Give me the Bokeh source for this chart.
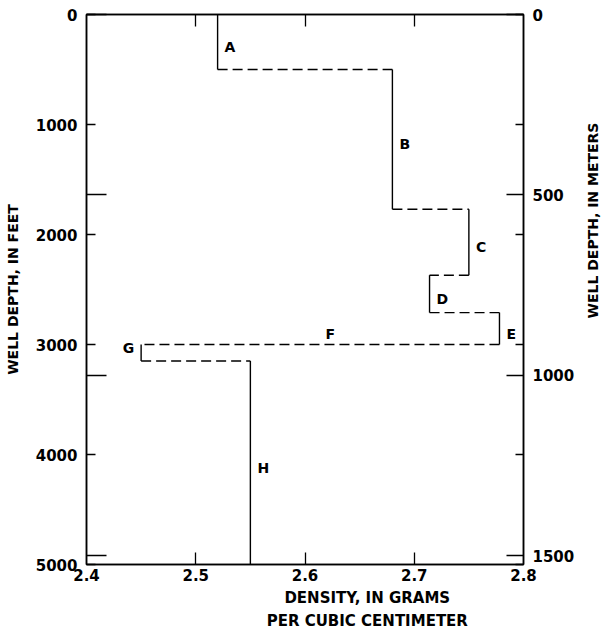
import math
from bokeh.plotting import figure
from bokeh.layouts import row, column
from bokeh.models import Range1d, LinearAxis, FixedTicker, ColumnDataSource
from bokeh.embed import file_html
from bokeh.resources import INLINE
from bokeh.core.properties import value

# ---- data ----
layer_names = ["A", "B", "C", "D", "E", "G", "H"]
layer_top_ft = [0, 500, 1770, 2370, 2710, 3000, 3150]
layer_base_ft = [500, 1770, 2370, 2710, 3000, 3150, 5000]
layer_density = [2.52, 2.68, 2.75, 2.714, 2.778, 2.45, 2.55]
thin_layer_name = ["F"]
thin_layer_depth_ft = [3000]

density_ticks = [2.4, 2.5, 2.6, 2.7, 2.8]
inner_density_ticks = [2.5, 2.6, 2.7]
feet_ticks = [0, 1000, 2000, 3000, 4000, 5000]
meter_ticks = [0, 500, 1000, 1500]
M_PER_FT = 0.3048

x_title = "DENSITY, IN GRAMS\nPER CUBIC CENTIMETER"
y_title_left = "WELL DEPTH, IN FEET"
y_title_right = "WELL DEPTH, IN METERS"

FONT = "DejaVu Sans"

# ---- sources ----
vert = ColumnDataSource(dict(x=layer_density, y0=layer_top_ft, y1=layer_base_ft))
horiz = ColumnDataSource(dict(
    x0=layer_density[:-1], x1=layer_density[1:], y=layer_base_ft[:-1]))

right_idx = [i for i, n in enumerate(layer_names) if n != "G"]
left_idx = [i for i, n in enumerate(layer_names) if n == "G"]
lab_r = ColumnDataSource(dict(
    x=[layer_density[i] for i in right_idx],
    y=[(layer_top_ft[i] + layer_base_ft[i]) / 2 for i in right_idx],
    t=[layer_names[i] for i in right_idx]))
lab_l = ColumnDataSource(dict(
    x=[layer_density[i] for i in left_idx],
    y=[layer_top_ft[i] for i in left_idx],
    t=[layer_names[i] for i in left_idx]))
e_i = layer_names.index("E")
g_i = layer_names.index("G")
lab_f = ColumnDataSource(dict(
    x=[(layer_density[e_i] + layer_density[g_i]) / 2],
    y=thin_layer_depth_ft, t=thin_layer_name))

# ---- main figure ----
xr = Range1d(2.4, 2.8)
yr = Range1d(5000, 0)
p = figure(x_range=xr, y_range=yr,
           frame_width=437, frame_height=550,
           min_border_left=86, min_border_right=55,
           min_border_top=14, min_border_bottom=24,
           x_axis_location=None, y_axis_location=None,
           output_backend="svg", toolbar_location=None)
p.extra_y_ranges = {"m": Range1d(5000 * M_PER_FT, 0)}
p.grid.grid_line_color = None
p.outline_line_color = "black"
p.outline_line_width = 1.5
p.background_fill_color = "white"
p.border_fill_color = "white"


def style(ax):
    ax.axis_line_color = "black"
    ax.axis_line_width = 1.5
    ax.major_tick_line_color = "black"
    ax.major_tick_line_width = 1.3
    ax.minor_tick_line_color = "black"
    ax.minor_tick_line_width = 1.3
    ax.major_tick_out = 0
    ax.minor_tick_out = 0
    ax.major_label_text_font = FONT
    ax.major_label_text_font_style = "bold"
    ax.major_label_text_font_size = "15px"
    ax.major_label_text_color = "black"
    ax.axis_label_text_font = FONT
    ax.axis_label_text_font_style = "bold"
    ax.axis_label_text_font_size = "14px"
    ax.axis_label_text_color = "black"


left = LinearAxis(ticker=FixedTicker(ticks=feet_ticks,
                                     minor_ticks=[m / M_PER_FT for m in meter_ticks]),
                  axis_label=y_title_left)
style(left)
left.major_tick_in = 9
left.minor_tick_in = 20
left.major_label_standoff = 9
left.axis_label_standoff = 12
p.add_layout(left, "left")

right = LinearAxis(y_range_name="m",
                   ticker=FixedTicker(ticks=meter_ticks,
                                      minor_ticks=[f * M_PER_FT for f in feet_ticks]))
style(right)
right.major_tick_in = 17
right.minor_tick_in = 8
right.major_label_standoff = 9
p.add_layout(right, "right")

bottom = LinearAxis(ticker=FixedTicker(ticks=density_ticks, minor_ticks=inner_density_ticks))
style(bottom)
bottom.major_tick_in = 0
bottom.minor_tick_in = 12
bottom.major_label_standoff = 4
p.add_layout(bottom, "below")

top = LinearAxis(ticker=FixedTicker(ticks=[], minor_ticks=inner_density_ticks))
style(top)
top.major_tick_in = 0
top.minor_tick_in = 12
top.major_label_standoff = 0
p.add_layout(top, "above")

# ---- profile ----
p.segment(x0="x", y0="y0", x1="x", y1="y1", source=vert,
          line_color="black", line_width=1.4)
p.segment(x0="x0", y0="y", x1="x1", y1="y", source=horiz,
          line_color="black", line_width=1.4, line_dash="10 5")

txt = dict(text="t", text_font=value(FONT), text_font_style="bold",
           text_font_size="14px", text_color="black", text_baseline="middle")
p.text(x="x", y="y", source=lab_r, text_align="left", x_offset=7, y_offset=5, **txt)
p.text(x="x", y="y", source=lab_l, text_align="right", x_offset=-7, y_offset=3, **txt)
txt_f = dict(txt)
txt_f["text_baseline"] = "bottom"
p.text(x="x", y="y", source=lab_f, text_align="center", x_offset=10, y_offset=-3, **txt_f)


def blank(fig):
    fig.grid.grid_line_color = None
    fig.outline_line_color = None
    fig.background_fill_color = "white"
    fig.border_fill_color = "white"


# ---- right-hand axis title (reads bottom to top, sits above centre) ----
pr = figure(x_range=Range1d(0, 1), y_range=yr,
            frame_width=28, frame_height=550,
            min_border_left=0, min_border_right=0,
            min_border_top=14, min_border_bottom=24,
            x_axis_location=None, y_axis_location=None,
            output_backend="svg", toolbar_location=None)
blank(pr)
pr.text(x=[0.5], y=[1873], text=[y_title_right], angle=math.pi / 2,
        text_align="center", text_baseline="middle", text_font=value(FONT),
        text_font_style="bold", text_font_size="14px", text_color="black")

# ---- bottom axis title (two lines, right of centre) ----
pb = figure(x_range=xr, y_range=Range1d(0, 1),
            frame_width=437, frame_height=42,
            min_border_left=86, min_border_right=0,
            min_border_top=0, min_border_bottom=0,
            x_axis_location=None, y_axis_location=None,
            output_backend="svg", toolbar_location=None)
blank(pb)
pb.text(x=[2.657], y=[1], text=[x_title], text_align="center",
        text_baseline="top", text_line_height=1.33, text_font=value(FONT),
        text_font_style="bold", text_font_size="15px", text_color="black")

layout = column(row(p, pr, spacing=0), pb, spacing=0)
open("out.html", "w").write(file_html(layout, INLINE))
